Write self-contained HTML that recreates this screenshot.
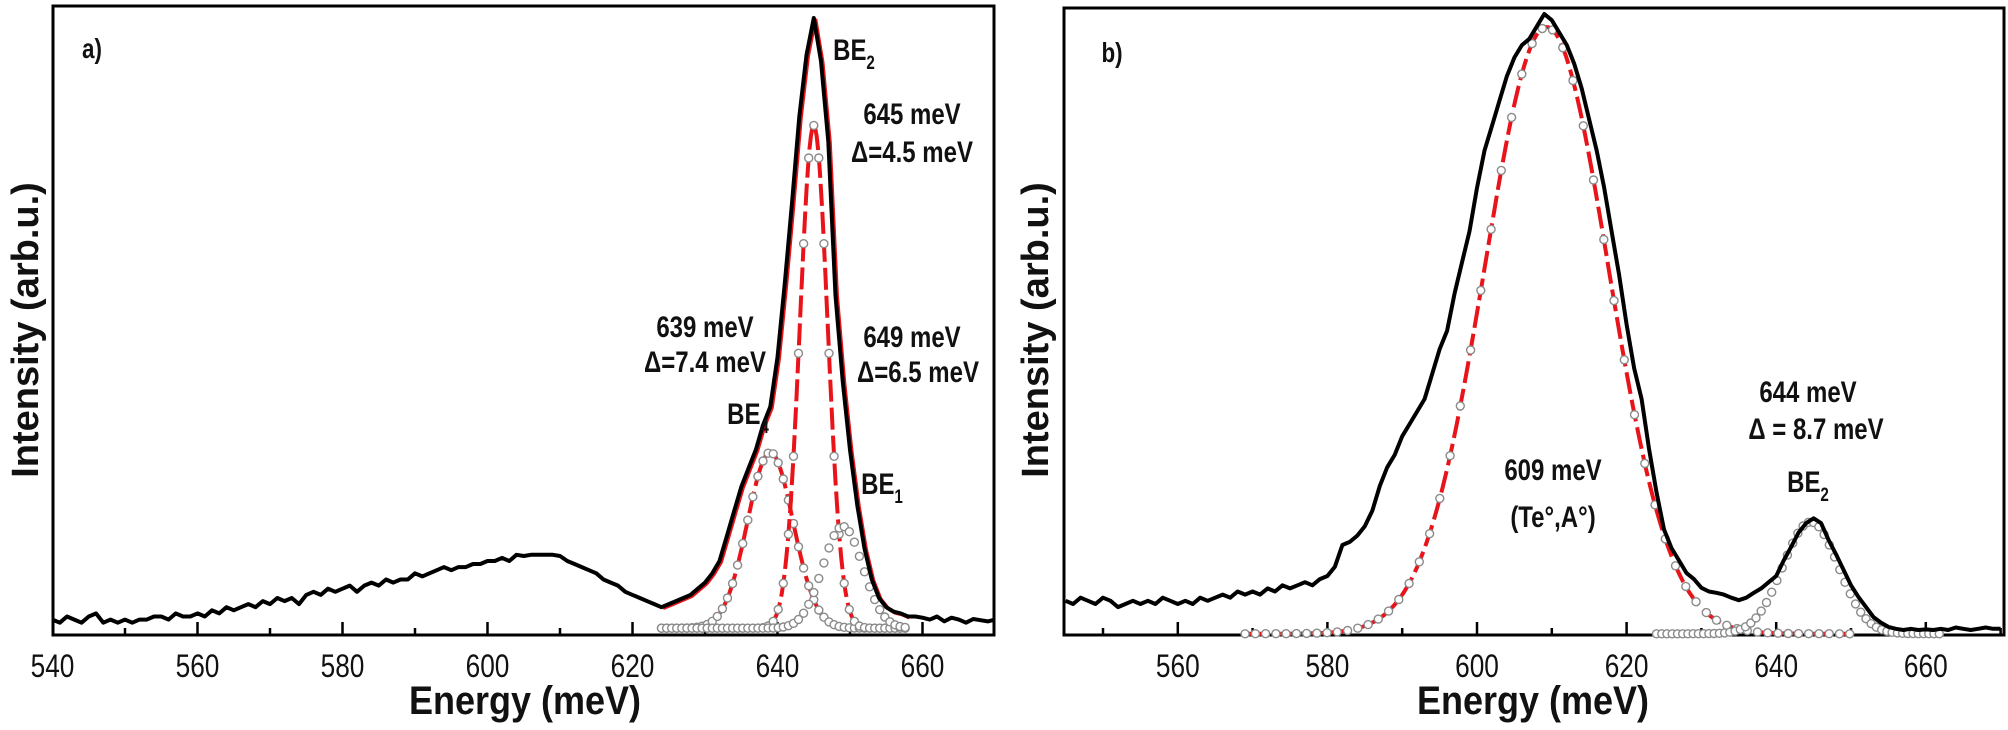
<!DOCTYPE html>
<html><head><meta charset="utf-8">
<style>
html,body{margin:0;padding:0;background:#fff;}
svg{display:block;}
text{font-family:"Liberation Sans",Arial,sans-serif;}
</style></head>
<body>
<svg id="fig" width="2008" height="730" viewBox="0 0 2008 730" xmlns="http://www.w3.org/2000/svg">
<g id="pa"></g>
<g id="pb"></g>
</svg>
<script>
// ---------- Panel a data ----------
const aStart = 540;
const aIntensity = [
.025,.02,.03,.025,.02,.03,.035,.02,.025,.02,
.025,.02,.025,.025,.03,.03,.025,.035,.03,.03,
.035,.03,.04,.035,.045,.04,.045,.05,.045,.055,
.05,.06,.055,.06,.05,.065,.07,.065,.075,.07,
.075,.08,.07,.08,.085,.08,.09,.085,.09,.09,
.1,.095,.1,.105,.11,.105,.11,.11,.115,.115,
.12,.12,.125,.12,.13,.128,.13,.13,.13,.13,
.128,.12,.115,.11,.105,.1,.09,.085,.08,.07,
.065,.06,.055,.05,.045,.05,.055,.06,.065,.075,
.085,.1,.12,.16,.2,.24,.27,.3,.34,.37,
.45,.57,.7,.84,.94,1.0,.93,.8,.55,.41,
.3,.21,.14,.09,.06,.045,.038,.035,.03,.03,
.028,.025,.03,.022,.028,.025,.02,.026,.024,.022,.025
];
const aCenters = [639, 645, 649];
const aFwhm = [7.4, 4.5, 6.5];
const aAmps = [0.285, 0.815, 0.165];
const aRedDashed = [true, true, false];
const aCompRange = [624, 658];
const aTicks = [540, 560, 580, 600, 620, 640, 660];

// ---------- Panel b data ----------
const bStart = 545;
const bIntensity = [
.055,.05,.06,.055,.05,.06,.055,.045,.05,.055,.05,.055,.05,.06,.055,.05,
.055,.05,.06,.055,.06,.065,.06,.07,.065,.07,
.065,.075,.07,.08,.075,.08,.085,.08,.09,.095,
.11,.145,.15,.16,.175,.2,.24,.27,.29,.32,
.34,.36,.38,.42,.46,.49,.55,.6,.65,.72,
.78,.82,.86,.9,.93,.95,.96,.98,1.0,.99,
.97,.95,.92,.88,.83,.78,.72,.65,.58,.5,
.43,.38,.3,.23,.17,.14,.12,.1,.09,.076,
.07,.068,.065,.06,.056,.06,.068,.075,.085,.095,
.12,.142,.165,.18,.188,.18,.153,.13,.105,.08,
.061,.045,.029,.02,.013,.01,.008,.01,.008,.009,
.008,.01,.008,.012,.01,.008,.01,.012,.01,.01
];
const bCenters = [609.3, 644.6];
const bFwhm = [19.4, 8.7];
const bAmps = [0.977, 0.18];
const bRedDashed = [true, false];
const bCompRanges = [[569, 650], [624, 662]];
const bTicks = [560, 580, 600, 620, 640, 660];

const NS = "http://www.w3.org/2000/svg";
function mk(parent, tag, attrs){
  const e = document.createElementNS(NS, tag);
  for (const k in attrs) e.setAttribute(k, attrs[k]);
  parent.appendChild(e); return e;
}
function gauss(e, c, f, a){ const s = f/2.3548; return a*Math.exp(-((e-c)*(e-c))/(2*s*s)); }

function drawPanel(g, cfg){
  const {x, y, left, right, top, bottom} = cfg;
  const fr = mk(g, 'rect', {x:left, y:top, width:right-left, height:bottom-top, fill:'none', stroke:'#000', 'stroke-width':3});
  
  
  for (let e = cfg.tickMin; e <= cfg.tickMax; e += 10){
    const px = x(e); if (px < left || px > right) continue;
    const major = cfg.ticks.includes(e);
    const t = mk(g, 'line', {x1:px, x2:px, y1:bottom, y2:bottom-(major?13:7), stroke:'#000', 'stroke-width':2.5});
    
    
  }
  cfg.ticks.forEach(e=>{
    const tl = mk(g, 'text', {x:0, y:0, 'font-size':32, 'text-anchor':'middle', fill:'#111', transform:`translate(${x(e)},${bottom+42}) scale(0.82,1)`});
    tl.textContent = e;
    
    
  });
  cfg.comps.forEach((c, i)=>{
    const [r0, r1] = c.range;
    if (c.red){
      let d = '';
      for (let e = r0; e <= r1; e += 0.2){ d += (d?'L':'M') + x(e).toFixed(1) + ',' + y(cfg.base + gauss(e, c.c, c.f, c.a)).toFixed(1); }
      const p = mk(g, 'path', {d, fill:'none', stroke:'#e8141a', 'stroke-width':4, 'stroke-dasharray':'22 6'});
      
      
    }
    const cg = mk(g, 'g', {});
    
    
    for (let e = r0; e <= r1 + 1e-6; e += c.step){
      mk(cg, 'circle', {cx:x(e).toFixed(1), cy:y(cfg.base + gauss(e, c.c, c.f, c.a)).toFixed(1), r:4, fill:'#fff', stroke:'#8a8a8a', 'stroke-width':1.4});
    }
  });
  if (cfg.env){
    let d = '';
    cfg.data.forEach((v, i)=>{ const e = cfg.start + i; if (e < cfg.env[0] || e > cfg.env[1]) return; d += (d?'L':'M') + (x(e)+1.5).toFixed(1) + ',' + (y(v)+1).toFixed(1); });
    const p = mk(g, 'path', {d, fill:'none', stroke:'#e8141a', 'stroke-width':4});
    
    
  }
  let d = '';
  cfg.data.forEach((v, i)=>{ const e = cfg.start + i; d += (d?'L':'M') + x(e).toFixed(1) + ',' + y(v).toFixed(1); });
  const dp = mk(g, 'path', {d, fill:'none', stroke:'#000', 'stroke-width':4, 'stroke-linejoin':'round'});
  
  
  const xt = mk(g, 'text', {x:0, y:0, 'font-size':40, 'font-weight':'bold', 'text-anchor':'middle', fill:'#111', transform:`translate(${cfg.xTitleX},714) scale(0.9,1)`});
  xt.textContent = 'Energy (meV)';
  
  
  const yt = mk(g, 'text', {x:0, y:0, 'font-size':38, 'font-weight':'bold', 'text-anchor':'middle', fill:'#111', transform:`translate(${cfg.yTitleX},330) rotate(-90)`});
  yt.textContent = 'Intensity (arb.u.)';
  
  
}

function label(g, txt, lx, ly, name, sub, size){
  const t = mk(g, 'text', {x:0, y:0, 'font-size':size||30, 'font-weight':'bold', 'text-anchor':'middle', fill:'#111', transform:`translate(${lx},${ly}) scale(0.8,1)`});
  t.textContent = txt;
  if (sub){ const s = mk(t, 'tspan', {'font-size':19, dy:9}); s.textContent = sub; }
  
  
}

// Panel a
const pa = document.getElementById('pa');
const xa = e => 52.5 + (e-540)*7.25;
const ya = v => 635 - v*617;
drawPanel(pa, {x:xa, y:ya, left:53, right:994, top:6, bottom:635, tickMin:540, tickMax:670, ticks:aTicks,
  data:aIntensity, start:aStart, base:0.011, env:[624,658], xTitleX:525, yTitleX:38,
  comps:aCenters.map((c,i)=>({c, f:aFwhm[i], a:aAmps[i], red:aRedDashed[i], range:aCompRange, step:0.7}))});
label(pa, 'a)', 92, 58, 'panel-a-label', null, 28);
label(pa, 'BE', 854, 60, 'be2-label', '2');
label(pa, '645 meV', 912, 124, 'be2-energy-label');
label(pa, 'Δ=4.5 meV', 912, 162, 'be2-width-label');
label(pa, '639 meV', 705, 337, 'be4-energy-label');
label(pa, 'Δ=7.4 meV', 705, 372, 'be4-width-label');
label(pa, '649 meV', 912, 347, 'be1-energy-label');
label(pa, 'Δ=6.5 meV', 918, 382, 'be1-width-label');
label(pa, 'BE', 748, 424, 'be4-label', '4');
label(pa, 'BE', 882, 494, 'be1-label', '1');

// Panel b
const pb = document.getElementById('pb');
const xb = e => 1477 + (e-600)*7.48;
const yb = v => 635 - v*621;
drawPanel(pb, {x:xb, y:yb, left:1064, right:2004, top:8, bottom:635, tickMin:550, tickMax:670, ticks:bTicks,
  data:bIntensity, start:bStart, base:0.002, env:null, xTitleX:1533, yTitleX:1048,
  comps:bCenters.map((c,i)=>({c, f:bFwhm[i], a:bAmps[i], red:bRedDashed[i], range:bCompRanges[i], step:i===0?1.37:0.7}))});
label(pb, 'b)', 1112, 62, 'panel-b-label', null, 28);
label(pb, '644 meV', 1808, 402, 'be2-energy-label');
label(pb, 'Δ = 8.7 meV', 1816, 439, 'be2-width-label');
label(pb, 'BE', 1808, 492, 'be2-label', '2');
label(pb, '609 meV', 1553, 480, 'main-peak-energy-label');
label(pb, '(Te°,A°)', 1553, 527, 'main-peak-assignment-label');
</script>
</body></html>
